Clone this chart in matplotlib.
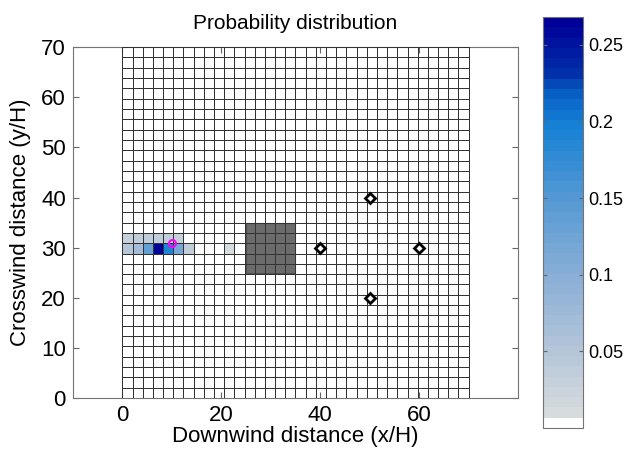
import numpy as np
import matplotlib
matplotlib.use('Agg')
import matplotlib.pyplot as plt
from matplotlib.colors import LinearSegmentedColormap, ListedColormap
from matplotlib.patches import Rectangle

plt.rcParams['font.family'] = ['Liberation Sans', 'DejaVu Sans']

# grid of 35 x 35 nodes -> 34 x 34 cells over 0..70
n_nodes = 35
domain = 70.0

# non-zero probability cells (column index, row index, probability)
cell_col = [0, 1, 2, 3, 4, 5, 0, 1, 2, 3, 4, 5, 6, 10]
cell_row = [15, 15, 15, 15, 15, 15, 14, 14, 14, 14, 14, 14, 14, 14]
cell_val = [0.03, 0.035, 0.04, 0.04, 0.035, 0.03,
            0.05, 0.07, 0.14, 0.268, 0.19, 0.12, 0.04, 0.01]

# building footprint (x, y, width, height)
building = (25, 25, 10, 10)

# sensors
sensor_x = [40, 50, 50, 60]
sensor_y = [30, 40, 20, 30]

# estimated source
source_x = [10]
source_y = [31]

prob_max = 0.268
cb_ticks = [0.05, 0.1, 0.15, 0.2, 0.25]

edges = np.linspace(0, domain, n_nodes)
prob = np.zeros((n_nodes - 1, n_nodes - 1))
for c, r, v in zip(cell_col, cell_row, cell_val):
    prob[r, c] = v

# colormap: white for the lowest level, then grey -> light blue -> navy
anchors = [(0.0, (0.86, 0.87, 0.87)),
           (0.187, (0.70, 0.77, 0.85)),
           (0.373, (0.53, 0.68, 0.84)),
           (0.56, (0.33, 0.60, 0.83)),
           (0.746, (0.08, 0.50, 0.83)),
           (0.82, (0.03, 0.38, 0.78)),
           (0.877, (0.0, 0.18, 0.66)),
           (1.0, (0.0, 0.0, 0.6))]
base = LinearSegmentedColormap.from_list('pb', anchors)
nlev = 40
cols = base(np.linspace(0, 1, nlev))
cols[0] = (1, 1, 1, 1)
cmap = ListedColormap(cols)

fig = plt.figure(figsize=(6.28, 4.51), dpi=100)
ax = fig.add_axes([0.116, 0.1175, 0.709, 0.778])
cax = fig.add_axes([0.865, 0.051, 0.064, 0.911])

mesh = ax.pcolormesh(edges, edges, prob, cmap=cmap, vmin=0, vmax=prob_max,
                     edgecolors='none', zorder=1)
ax.add_patch(Rectangle(building[:2], building[2], building[3],
                       facecolor=(0.42, 0.42, 0.42), edgecolor=(0.3, 0.3, 0.3),
                       lw=0.8, zorder=2))
ax.pcolormesh(edges, edges, prob, facecolors='none', edgecolors=(0.2, 0.2, 0.2),
              linewidth=0.6, zorder=3)

ax.plot(sensor_x, sensor_y, 'D', ms=5.5, mfc='white', mec='black', mew=2, zorder=5)
ax.plot(source_x, source_y, 'o', ms=5, mfc='none', mec='magenta', mew=1.5, zorder=6)

ax.set_xlim(-10, 80)
ax.set_ylim(0, 70)
ax.set_xticks([0, 20, 40, 60])
ax.set_yticks(range(0, 71, 10))
ax.tick_params(direction='in', labelsize=16, length=4, color='0.4',
               top=True, right=True, pad=5)
for s in ax.spines.values():
    s.set_color('0.45')
ax.set_xlabel('Downwind distance (x/H)', fontsize=16, labelpad=0)
ax.set_ylabel('Crosswind distance (y/H)', fontsize=16, labelpad=7)
ax.set_title('Probability distribution', fontsize=15, pad=13)

cb = fig.colorbar(mesh, cax=cax, ticks=cb_ticks)
cb.ax.set_yticklabels(['0.05', '0.1', '0.15', '0.2', '0.25'])
cb.ax.tick_params(direction='in', labelsize=13, length=3, color='0.4',
                  left=True, right=True)
cb.outline.set_edgecolor('0.45')

fig.savefig('out.png', dpi=100)
